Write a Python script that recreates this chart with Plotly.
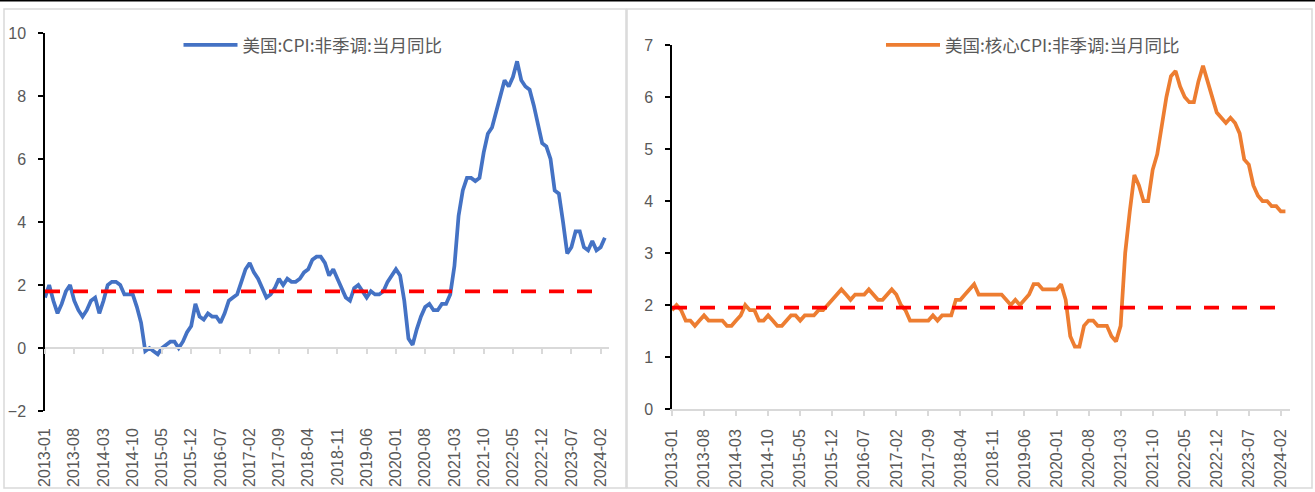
import pandas as pd
import plotly.graph_objects as go

# Monthly categories, 2013-01 .. 2024-03
months = [p.strftime("%Y-%m") for p in pd.period_range("2013-01", "2024-03", freq="M")]
tick_months = months[::7]

# 美国 CPI 当月同比 (%)
cpi_yoy = [
    1.6, 2.0, 1.5, 1.1, 1.4, 1.8, 2.0, 1.5, 1.2, 1.0, 1.2, 1.5,
    1.6, 1.1, 1.5, 2.0, 2.1, 2.1, 2.0, 1.7, 1.7, 1.7, 1.3, 0.8,
    -0.1, 0.0, -0.1, -0.2, 0.0, 0.1, 0.2, 0.2, 0.0, 0.2, 0.5, 0.7,
    1.4, 1.0, 0.9, 1.1, 1.0, 1.0, 0.8, 1.1, 1.5, 1.6, 1.7, 2.1,
    2.5, 2.7, 2.4, 2.2, 1.9, 1.6, 1.7, 1.9, 2.2, 2.0, 2.2, 2.1,
    2.1, 2.2, 2.4, 2.5, 2.8, 2.9, 2.9, 2.7, 2.3, 2.5, 2.2, 1.9,
    1.6, 1.5, 1.9, 2.0, 1.8, 1.6, 1.8, 1.7, 1.7, 1.8, 2.1, 2.3,
    2.5, 2.3, 1.5, 0.3, 0.1, 0.6, 1.0, 1.3, 1.4, 1.2, 1.2, 1.4,
    1.4, 1.7, 2.6, 4.2, 5.0, 5.4, 5.4, 5.3, 5.4, 6.2, 6.8, 7.0,
    7.5, 7.9, 8.5, 8.3, 8.6, 9.1, 8.5, 8.3, 8.2, 7.7, 7.1, 6.5,
    6.4, 6.0, 5.0, 4.9, 4.0, 3.0, 3.2, 3.7, 3.7, 3.2, 3.1, 3.4,
    3.1, 3.2, 3.5,
]

# 美国 核心CPI 当月同比 (%)
core_cpi_yoy = [
    1.9, 2.0, 1.9, 1.7, 1.7, 1.6, 1.7, 1.8, 1.7, 1.7, 1.7, 1.7,
    1.6, 1.6, 1.7, 1.8, 2.0, 1.9, 1.9, 1.7, 1.7, 1.8, 1.7, 1.6,
    1.6, 1.7, 1.8, 1.8, 1.7, 1.8, 1.8, 1.8, 1.9, 1.9, 2.0, 2.1,
    2.2, 2.3, 2.2, 2.1, 2.2, 2.2, 2.2, 2.3, 2.2, 2.1, 2.1, 2.2,
    2.3, 2.2, 2.0, 1.9, 1.7, 1.7, 1.7, 1.7, 1.7, 1.8, 1.7, 1.8,
    1.8, 1.8, 2.1, 2.1, 2.2, 2.3, 2.4, 2.2, 2.2, 2.2, 2.2, 2.2,
    2.2, 2.1, 2.0, 2.1, 2.0, 2.1, 2.2, 2.4, 2.4, 2.3, 2.3, 2.3,
    2.3, 2.4, 2.1, 1.4, 1.2, 1.2, 1.6, 1.7, 1.7, 1.6, 1.6, 1.6,
    1.4, 1.3, 1.6, 3.0, 3.8, 4.5, 4.3, 4.0, 4.0, 4.6, 4.9, 5.5,
    6.0, 6.4, 6.5, 6.2, 6.0, 5.9, 5.9, 6.3, 6.6, 6.3, 6.0, 5.7,
    5.6, 5.5, 5.6, 5.5, 5.3, 4.8, 4.7, 4.3, 4.1, 4.0, 4.0, 3.9,
    3.9, 3.8, 3.8,
]

# Reference levels (dashed red lines)
cpi_ref = 1.8
core_ref = 1.95

# Layout positions below are given in figure pixels
W, H = 1315, 492
px = lambda v: v / W
py = lambda v: 1 - v / H

TICK_FONT = dict(family="Liberation Sans, Arial, sans-serif", size=16, color="#595959")
LEG_FONT = dict(family="Noto Sans CJK SC, sans-serif", size=17.5, color="#595959")
GRID_GREY = "#d9d9d9"
RED_DASH = "15px,13px"
LINE_W = 3.75

left_x = [px(45), px(609)]
left_y = [py(411), py(33)]
right_x = [px(672), px(1290)]
right_y = [py(409), py(45)]
y_range_left = [-2, 10]
zero_pos = left_y[0] + (left_y[1] - left_y[0]) * (0 - y_range_left[0]) / (y_range_left[1] - y_range_left[0])

fig = go.Figure()

fig.add_trace(go.Scatter(
    x=months, y=cpi_yoy, mode="lines", name="美国:CPI:非季调:当月同比",
    line=dict(color="#4472C4", width=LINE_W), xaxis="x", yaxis="y", legend="legend",
))
fig.add_trace(go.Scatter(
    x=months, y=[cpi_ref] * len(months), mode="lines", showlegend=False,
    line=dict(color="#FF0000", width=LINE_W, dash=RED_DASH), xaxis="x3", yaxis="y",
))
fig.add_trace(go.Scatter(
    x=months, y=core_cpi_yoy, mode="lines", name="美国:核心CPI:非季调:当月同比",
    line=dict(color="#ED7D31", width=LINE_W), xaxis="x2", yaxis="y2", legend="legend2",
))
fig.add_trace(go.Scatter(
    x=months, y=[core_ref] * len(months), mode="lines", showlegend=False,
    line=dict(color="#FF0000", width=LINE_W, dash=RED_DASH), xaxis="x2", yaxis="y2",
))

x_common = dict(
    type="category", range=[0, 135], tickmode="array", tickvals=tick_months,
    ticktext=tick_months, tickangle=-90, tickfont=TICK_FONT, showgrid=False,
    zeroline=False, automargin=False,
)
y_common = dict(
    showgrid=False, zeroline=False, showline=True, linecolor="black", linewidth=1.5,
    ticks="outside", ticklen=5, tickcolor="black", tickwidth=1.5, tickfont=TICK_FONT,
    ticklabelstandoff=9, automargin=False,
)

fig.update_layout(
    width=W, height=H, margin=dict(l=0, r=0, t=0, b=0, autoexpand=False),
    paper_bgcolor="white", plot_bgcolor="rgba(0,0,0,0)",
    xaxis=dict(**x_common, domain=left_x, anchor="y", showline=False, ticks="",
               ticklabelstandoff=13),
    xaxis3=dict(**x_common, domain=left_x, overlaying="x", anchor="free", position=zero_pos,
                showline=True, linecolor=GRID_GREY, linewidth=1.5, ticks="outside",
                tickcolor=GRID_GREY, ticklen=5, tickwidth=1.5, showticklabels=False),
    yaxis=dict(**y_common, domain=left_y, range=y_range_left, dtick=2, anchor="x"),
    xaxis2=dict(**x_common, domain=right_x, anchor="y2", showline=True, linecolor=GRID_GREY,
                linewidth=1.5, ticks="outside", tickcolor=GRID_GREY, ticklen=5, tickwidth=1.5,
                ticklabelstandoff=7),
    yaxis2=dict(**y_common, domain=right_y, range=[0, 7], dtick=1, anchor="x2"),
    legend=dict(x=px(313), y=py(45), xanchor="center", yanchor="middle", itemwidth=54,
                orientation="h", font=LEG_FONT, bgcolor="rgba(0,0,0,0)"),
    legend2=dict(x=px(1033), y=py(45), xanchor="center", yanchor="middle", itemwidth=54,
                 orientation="h", font=LEG_FONT, bgcolor="rgba(0,0,0,0)"),
    showlegend=True,
    shapes=[
        dict(type="rect", xref="paper", yref="paper", x0=px(4), x1=px(626), y0=py(488), y1=py(9),
             line=dict(color=GRID_GREY, width=1.5), layer="below"),
        dict(type="rect", xref="paper", yref="paper", x0=px(627), x1=px(1312), y0=py(488), y1=py(9),
             line=dict(color=GRID_GREY, width=1.5), layer="below"),
        dict(type="line", xref="paper", yref="paper", x0=0, x1=1, y0=py(0.75), y1=py(0.75),
             line=dict(color="black", width=1.5)),
    ],
)

fig.write_html("out.html")
